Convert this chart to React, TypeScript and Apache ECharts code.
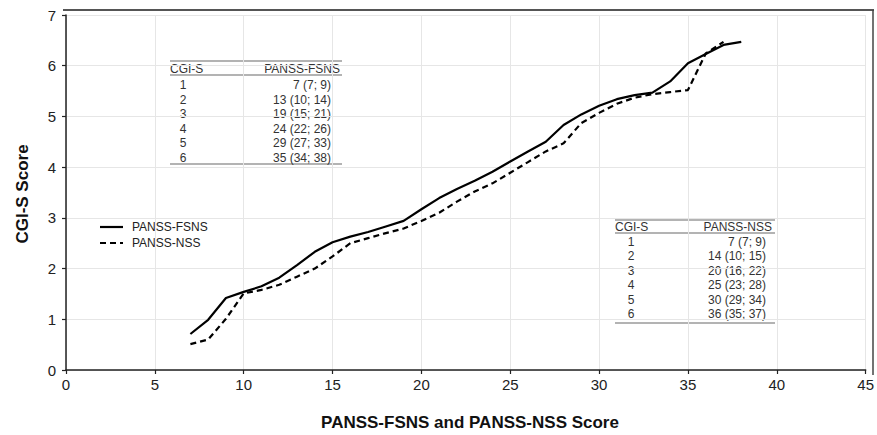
import React, { useEffect, useRef } from "react";
import * as echarts from "echarts";

const fsnsX = [7, 8, 9, 10, 11, 12, 13, 14, 15, 16, 17, 18, 19, 20, 21, 22, 23, 24, 25, 26, 27, 28, 29, 30, 31, 32, 33, 34, 35, 36, 37, 38];
const fsnsY = [0.71, 0.99, 1.42, 1.54, 1.65, 1.82, 2.07, 2.33, 2.52, 2.63, 2.72, 2.83, 2.94, 3.17, 3.39, 3.57, 3.73, 3.91, 4.11, 4.31, 4.5, 4.83, 5.04, 5.21, 5.34, 5.42, 5.47, 5.69, 6.05, 6.23, 6.41, 6.47];
const nssX = [7, 8, 9, 10, 11, 12, 13, 14, 15, 16, 17, 18, 19, 20, 21, 22, 23, 24, 25, 26, 27, 28, 29, 30, 31, 32, 33, 34, 35, 36, 37];
const nssY = [0.51, 0.6, 1.01, 1.51, 1.58, 1.68, 1.84, 2.0, 2.24, 2.5, 2.6, 2.7, 2.79, 2.94, 3.1, 3.32, 3.52, 3.68, 3.89, 4.1, 4.31, 4.47, 4.87, 5.07, 5.25, 5.37, 5.44, 5.48, 5.52, 6.24, 6.47];

const seriesNames = ["PANSS-FSNS", "PANSS-NSS"];
const cgiLevels = ["1", "2", "3", "4", "5", "6"];
const fsnsTable = ["7 (7; 9)", "13 (10; 14)", "19 (15; 21)", "24 (22; 26)", "29 (27; 33)", "35 (34; 38)"];
const nssTable = ["7 (7; 9)", "14 (10; 15)", "20 (16; 22)", "25 (23; 28)", "30 (29; 34)", "36 (35; 37)"];

const FONT = "Liberation Sans, Arial, Helvetica, sans-serif";
const DASH = [6, 4];

function makeTable(
  left: number, right: number, top: number, headerY: number, underline: number,
  rowY0: number, rowStep: number, bottom: number, numX: number, valRight: number,
  headRight: number, headName: string, values: string[]
) {
  const children: any[] = [];
  children.push({
    type: "rect",
    shape: { x: left, y: top, width: right - left, height: bottom - top },
    style: { fill: "#ffffff" },
  });
  const lineStyle = { stroke: "#9a9a9a", lineWidth: 1.5 };
  children.push({ type: "line", shape: { x1: left, y1: top, x2: right, y2: top }, style: lineStyle });
  children.push({ type: "line", shape: { x1: left, y1: underline, x2: right, y2: underline }, style: lineStyle });
  children.push({ type: "line", shape: { x1: left, y1: bottom, x2: right, y2: bottom }, style: lineStyle });
  children.push({
    type: "text", x: left, y: headerY,
    style: { text: "CGI-S", fill: "#333", font: `12px ${FONT}`, align: "left", verticalAlign: "middle" },
  });
  children.push({
    type: "text", x: headRight, y: headerY,
    style: { text: headName, fill: "#333", font: `12px ${FONT}`, align: "right", verticalAlign: "middle" },
  });
  cgiLevels.forEach((lv, i) => {
    const y = rowY0 + i * rowStep;
    children.push({
      type: "text", x: numX, y,
      style: { text: lv, fill: "#333", font: `12px ${FONT}`, align: "center", verticalAlign: "middle" },
    });
    children.push({
      type: "text", x: valRight, y,
      style: { text: values[i], fill: "#333", font: `12px ${FONT}`, align: "right", verticalAlign: "middle" },
    });
  });
  return { type: "group", children };
}

export default function App() {
  const ref = useRef<HTMLDivElement>(null);
  useEffect(() => {
    if (!ref.current) return;
    const chart = echarts.init(ref.current, undefined, { renderer: "svg" });
    const option: any = {
      animation: false,
      backgroundColor: "#ffffff",
      grid: { left: 66, right: 10, top: 15, bottom: 65, containLabel: false },
      xAxis: {
        type: "value",
        min: 0,
        max: 45,
        interval: 5,
        offset: 4,
        axisLine: { show: true, lineStyle: { color: "#222", width: 1.5 } },
        axisTick: { show: true, length: 4, lineStyle: { color: "#222", width: 1.2 } },
        axisLabel: { color: "#222", fontSize: 15, fontFamily: FONT, margin: 3 },
        splitLine: { show: true, lineStyle: { color: "#e6e6e6", width: 1 } },
      },
      yAxis: {
        type: "value",
        min: 0,
        max: 7,
        interval: 1,
        offset: 2,
        axisLine: { show: true, lineStyle: { color: "#222", width: 1.5 } },
        axisTick: { show: true, length: 4, lineStyle: { color: "#222", width: 1.2 } },
        axisLabel: { color: "#222", fontSize: 15, fontFamily: FONT, margin: 8 },
        splitLine: { show: true, lineStyle: { color: "#e6e6e6", width: 1 } },
      },
      series: [
        {
          name: seriesNames[0],
          type: "line",
          symbol: "none",
          data: fsnsX.map((x, i) => [x, fsnsY[i]]),
          lineStyle: { color: "#000", width: 2.2, type: "solid" },
          itemStyle: { color: "#000" },
          z: 3,
        },
        {
          name: seriesNames[1],
          type: "line",
          symbol: "none",
          data: nssX.map((x, i) => [x, nssY[i]]),
          lineStyle: { color: "#000", width: 2.2, type: DASH },
          itemStyle: { color: "#000" },
          z: 2,
        },
      ],
      graphic: [
        { type: "line", z: 10, shape: { x1: 63, y1: 10, x2: 874, y2: 10 }, style: { stroke: "#555", lineWidth: 2 } },
        { type: "line", z: 10, shape: { x1: 873, y1: 10, x2: 873, y2: 375 }, style: { stroke: "#444", lineWidth: 1.5 } },
        makeTable(170, 342, 61, 69, 75, 85, 14.6, 164, 183, 331, 340, "PANSS-FSNS", fsnsTable),
        makeTable(615, 775, 220, 227, 233, 242, 14.4, 323, 631, 766, 772, "PANSS-NSS", nssTable),
        // legend
        { type: "line", shape: { x1: 100, y1: 227, x2: 123, y2: 227 }, style: { stroke: "#000", lineWidth: 2.2 } },
        { type: "line", shape: { x1: 100, y1: 243, x2: 123, y2: 243 }, style: { stroke: "#000", lineWidth: 2.2, lineDash: DASH } },
        {
          type: "text", x: 132, y: 227,
          style: { text: seriesNames[0], fill: "#222", font: `12px ${FONT}`, align: "left", verticalAlign: "middle" },
        },
        {
          type: "text", x: 132, y: 243,
          style: { text: seriesNames[1], fill: "#222", font: `12px ${FONT}`, align: "left", verticalAlign: "middle" },
        },
        {
          type: "text", x: 470, y: 422,
          style: { text: "PANSS-FSNS and PANSS-NSS Score", fill: "#111", font: `bold 17px ${FONT}`, align: "center", verticalAlign: "middle" },
        },
        {
          type: "text", x: 22, y: 194, rotation: Math.PI / 2,
          style: { text: "CGI-S Score", fill: "#111", font: `bold 17px ${FONT}`, align: "center", verticalAlign: "middle" },
        },
      ],
    };
    chart.setOption(option);
    return () => chart.dispose();
  }, []);
  return <div ref={ref} style={{ width: 877, height: 435, position: "absolute", left: 0, top: 0 }} />;
}
